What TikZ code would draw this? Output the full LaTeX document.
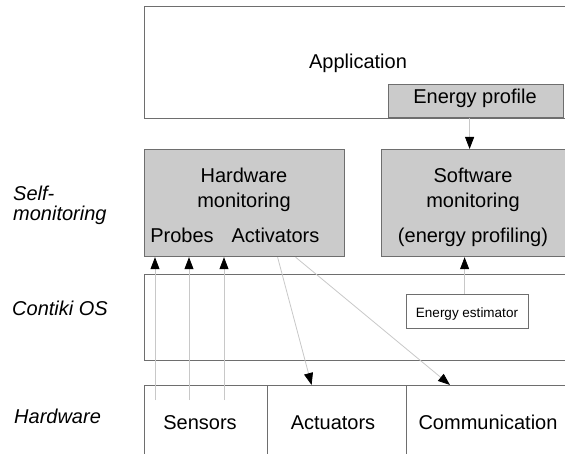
\documentclass[tikz,border=0pt]{standalone}
\usepackage{fontspec}
\setmainfont{Liberation Sans}
\usetikzlibrary{arrows.meta,calc}
\definecolor{boxline}{HTML}{6E6E6E}
\definecolor{boxfill}{HTML}{CBCBCB}
\definecolor{connline}{HTML}{C8C8C8}
\begin{document}
\begin{tikzpicture}[x=1pt,y=-1pt,
  box/.style={draw=boxline,line width=1.2pt,inner sep=0pt,anchor=north west},
  gbox/.style={box,fill=boxfill},
  txt/.style={inner sep=0pt,font=\fontsize{20}{24}\selectfont,anchor=mid},
  lbl/.style={inner sep=0pt,font=\fontsize{20}{24}\selectfont\itshape,anchor=mid west},
  conn/.style={draw=connline,line width=0.8pt,-{Triangle[length=12pt,width=9pt,color=black]}}]
\useasboundingbox (0,0) rectangle (565,454);
\clip (0,0) rectangle (565,454);
% boxes
\node[box,minimum width=460pt,minimum height=112pt] (app) at (144,6) {};
\node[gbox,minimum width=175pt,minimum height=33pt] (ep) at (388,84) {};
\node[gbox,minimum width=200pt,minimum height=107pt] (hw) at (144,149) {};
\node[gbox,minimum width=220pt,minimum height=107pt] (sw) at (381,149) {};
\node[box,minimum width=460pt,minimum height=86pt] (os) at (144,274) {};
\node[box,minimum width=122pt,minimum height=34pt] (ee) at (406,294) {};
\node[box,minimum width=123pt,minimum height=90pt] (sens) at (144,385) {};
\node[box,minimum width=139pt,minimum height=90pt] (act) at (267,385) {};
\node[box,minimum width=200pt,minimum height=90pt] (comm) at (406,385) {};
% texts
\node[txt] (tapp) at (358,66) {Application};
\node[txt] (tep) at (475,101) {Energy profile};
\node[txt] (thw1) at (244,180) {Hardware};
\node[txt] (thw2) at (244,205) {monitoring};
\node[txt] (tpr) at (182,239.5) {Probes};
\node[txt] (tac) at (275.5,239.5) {Activators};
\node[txt] (tsw1) at (473,180) {Software};
\node[txt] (tsw2) at (473,205) {monitoring};
\node[txt] (tsw3) at (473,239.5) {(energy profiling)};
\node[txt,font=\fontsize{13.5}{15}\selectfont] (tee) at (467,315) {Energy estimator};
\node[txt] (tsens) at (200,427) {Sensors};
\node[txt] (tact) at (333,427) {Actuators};
\node[txt] (tcomm) at (488,427) {Communication};
% layer labels
\node[lbl] (l1) at (13,198) {Self-};
\node[lbl] (l2) at (13,218) {monitoring};
\node[lbl] (l3) at (12,313) {Contiki OS};
\node[lbl] (l4) at (14,421) {Hardware};
% connectors
\coordinate (p1) at (155,400);
\coordinate (p2) at (189,400);
\coordinate (p3) at (224,400);
\draw[conn] (p1) -- (p1 |- hw.south);
\draw[conn] (p2) -- (p2 |- hw.south);
\draw[conn] (p3) -- (p3 |- hw.south);
\draw[conn] ([xshift=-6.5pt]ep.south) -- ([xshift=-6.5pt]ep.south |- sw.north);
\draw[conn] ([xshift=-3pt]ee.north) -- ([xshift=-3pt]ee.north |- sw.south);
\draw[conn] ([xshift=33pt]hw.south) -- ([xshift=-25.5pt]act.north);
\draw[conn] ([xshift=51pt]hw.south) -- ([xshift=44pt]comm.north west);
\end{tikzpicture}
\end{document}
